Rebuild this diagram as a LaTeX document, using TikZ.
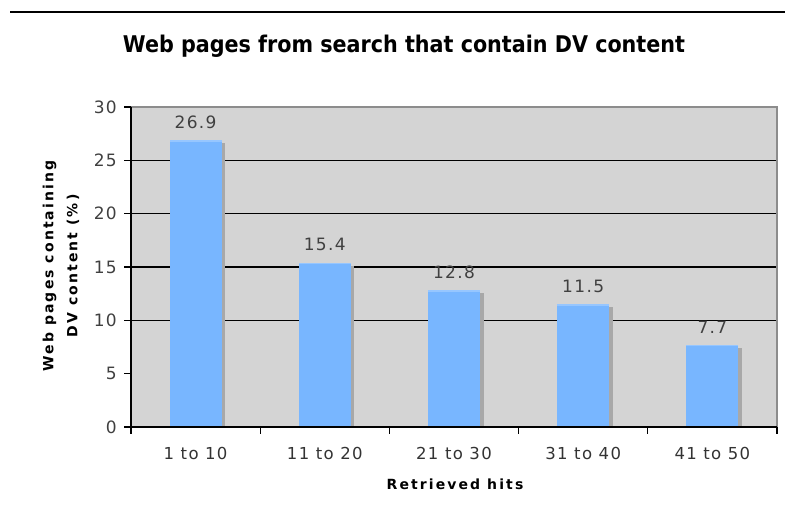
\documentclass[tikz,border=0pt]{standalone}
\usepackage{fontspec}
\setmainfont{DejaVu Sans}
\newfontfamily\condb{DejaVu Sans Condensed}
\newfontfamily\spaced[LetterSpace=8]{DejaVu Sans}
\newfontfamily\spacedb[LetterSpace=15]{DejaVu Sans Bold}
\definecolor{plotbg}{RGB}{212,212,212}
\definecolor{barblue}{RGB}{120,182,255}
\definecolor{bartop}{RGB}{150,198,255}
\definecolor{shadowg}{RGB}{168,168,168}
\definecolor{frameg}{RGB}{140,140,140}
\tikzset{
  ticklab/.style={font=\spaced\fontsize{17}{19}\selectfont, text=black!75, anchor=east, inner sep=0pt},
  catlab/.style={font=\spaced\fontsize{16.5}{19}\selectfont, text=black!80, inner sep=0pt},
  vallab/.style={font=\spaced\fontsize{17}{19}\selectfont, text=black!75, inner sep=0pt},
  axtitle/.style={font=\spacedb\fontsize{14}{24}\selectfont, inner sep=0pt},
  gridln/.style={draw=black, line width=1.3pt},
  axisln/.style={draw=black, line width=1.5pt},
}
\begin{document}
\begin{tikzpicture}[x=1pt,y=-1pt]
\useasboundingbox (0,0) rectangle (785,519);
% top rule
\draw[line width=2pt] (10,12) -- (785,12);
% title
\node[font=\condb\bfseries\fontsize{23}{26}\selectfont, inner sep=0pt] (title) at (404,46) {Web pages from search that contain DV content};
% plot background
\fill[plotbg] (131,107) rectangle (777,427);
% grid lines
\foreach \v in {10,15,20,25} {
  \draw[gridln] (131,{427-\v*10.667}) -- (777,{427-\v*10.667});
}
% frame top and right
\draw[frameg, line width=2pt] (131,107) -- (777,107) -- (777,427);
% bars
\foreach \i/\v in {0/26.9,1/15.4,2/12.8,3/11.5,4/7.7} {
  \pgfmathsetmacro{\cx}{195.6+\i*129.2}
  \pgfmathsetmacro{\ty}{427-\v*10.667}
  \fill[shadowg] (\cx+26,\ty+3) rectangle (\cx+29.5,427);
  \fill[barblue] (\cx-26,\ty) rectangle (\cx+26,427);
  \fill[bartop] (\cx-26,\ty) rectangle (\cx+26,\ty+1.5);
  \node[vallab] (val\i) at (\cx,\ty-18) {\v};
}
% axes
\draw[axisln] (131,107) -- (131,428);
\draw[axisln] (130,427) -- (777,427);
% y ticks
\foreach \v in {0,5,...,30} {
  \draw[line width=1.3pt] (124,{427-\v*10.667}) -- (131,{427-\v*10.667});
  \node[ticklab] (yt\v) at (117,{427-\v*10.667}) {\v};
}
% x ticks
\foreach \i in {0,...,5} {
  \draw[line width=1.3pt] ({131+\i*129.2},427) -- ({131+\i*129.2},434);
}
\foreach \i/\t in {0/1 to 10,1/11 to 20,2/21 to 30,3/31 to 40,4/41 to 50} {
  \node[catlab] (cat\i) at ({195.6+\i*129.2},453) {\t};
}
% axis titles
\node[axtitle] (xlab) at (455,484) {Retrieved hits};
\node[axtitle, rotate=90, align=center] (ylab) at (61,266) {Web pages containing\\DV content (\%)};
\end{tikzpicture}
\end{document}
